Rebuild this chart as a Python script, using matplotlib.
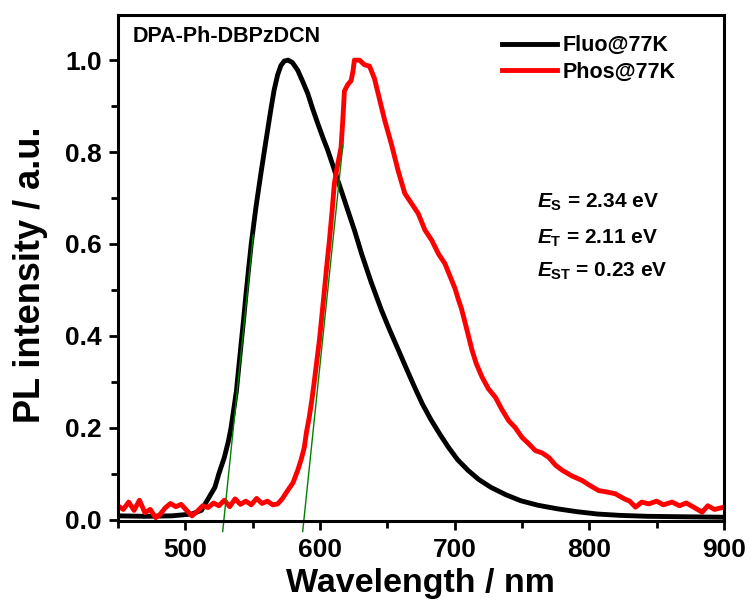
import numpy as np
import matplotlib.pyplot as plt
from matplotlib.ticker import MultipleLocator

plt.rcParams['font.family'] = ['Liberation Sans', 'DejaVu Sans']
plt.rcParams['font.weight'] = 'bold'
plt.rcParams['mathtext.fontset'] = 'custom'
plt.rcParams['mathtext.rm'] = 'Liberation Sans:bold'
plt.rcParams['mathtext.it'] = 'Liberation Sans:italic:bold'
plt.rcParams['mathtext.bf'] = 'Liberation Sans:bold'

# Fluorescence at 77 K (black)
fluo_wl = [450, 470, 490, 505, 512, 516, 522, 525, 529, 532, 534, 536, 538, 539.5, 541.4,
           543.3, 545.1, 547, 549, 552.5, 556.2, 560, 563.7, 566, 568.6, 571, 573.5, 576.3,
           579.5, 583.5, 587, 591, 594.5, 598.4, 602, 605.8, 609.5, 613.2, 617, 620.7, 625.6,
           631, 638, 645.4, 651, 657.8, 664, 670, 676, 682.5, 689, 695, 702, 710, 718, 727,
           738, 749, 762, 777, 791, 806, 823, 843, 870, 900]
fluo_int = [0.008, 0.007, 0.008, 0.012, 0.02, 0.04, 0.07, 0.1, 0.135, 0.17, 0.2, 0.24, 0.28,
            0.325, 0.38, 0.435, 0.49, 0.545, 0.6, 0.68, 0.754, 0.826, 0.895, 0.935, 0.968,
            0.988, 0.998, 1.0, 0.995, 0.978, 0.955, 0.927, 0.895, 0.862, 0.833, 0.804, 0.772,
            0.739, 0.706, 0.673, 0.63, 0.578, 0.517, 0.458, 0.418, 0.372, 0.33, 0.29, 0.252,
            0.217, 0.186, 0.159, 0.131, 0.107, 0.087, 0.07, 0.054, 0.041, 0.031, 0.023, 0.017,
            0.012, 0.009, 0.007, 0.006, 0.005]

# Phosphorescence at 77 K (red)
phos_wl = [450, 454, 458, 462, 466, 470, 474, 478, 481, 485, 489, 493, 497, 501, 505, 509,
           513, 517, 521, 525, 529, 533, 537, 541, 545, 549, 553, 557, 561, 565, 568.6, 572,
           576, 580, 583.5, 586, 588.4, 590, 592.1, 594, 595.8, 597.7, 599.6, 601.5, 603.3,
           605, 607, 609, 610.7, 613, 615.7, 617, 618.2, 620.7, 623.1, 624.5, 625.6, 629.4,
           633, 636.8, 640.5, 643, 645.5, 648, 653, 658, 663, 668, 673, 678, 683, 687.9,
           692.8, 697.8, 700.3, 703, 705, 708, 713, 716, 720.4, 725, 730.3, 735, 740.2, 745,
           750, 755, 760, 765, 770, 775, 780, 787, 794.7, 800, 807, 813, 819.4, 826, 830,
           834.3, 839, 844.2, 850, 855, 861.5, 867, 872, 878, 883.8, 888, 893, 900]
phos_int = [0.03, 0.022, 0.038, 0.02, 0.042, 0.015, 0.022, 0.004, 0.01, 0.025, 0.035, 0.028,
            0.033, 0.02, 0.008, 0.018, 0.03, 0.026, 0.036, 0.03, 0.042, 0.028, 0.045, 0.033,
            0.04, 0.032, 0.046, 0.035, 0.04, 0.032, 0.034, 0.045, 0.063, 0.08, 0.107, 0.13,
            0.157, 0.19, 0.223, 0.26, 0.3, 0.345, 0.39, 0.445, 0.498, 0.55, 0.606, 0.67, 0.731,
            0.77, 0.81, 0.87, 0.933, 0.947, 0.955, 0.975, 1.0, 1.0, 0.99, 0.987, 0.96, 0.93,
            0.9, 0.87, 0.818, 0.76, 0.71, 0.688, 0.666, 0.63, 0.608, 0.579, 0.557, 0.521,
            0.503, 0.477, 0.46, 0.426, 0.368, 0.34, 0.31, 0.285, 0.266, 0.24, 0.215, 0.2,
            0.179, 0.165, 0.15, 0.145, 0.135, 0.118, 0.107, 0.095, 0.085, 0.075, 0.063, 0.06,
            0.056, 0.045, 0.04, 0.027, 0.038, 0.034, 0.04, 0.032, 0.038, 0.03, 0.036, 0.026,
            0.016, 0.03, 0.022, 0.027]

# onset tangents (green)
tan_s_wl = [527.8, 550.5]
tan_s_int = [-0.026, 0.62]
tan_t_wl = [587.2, 617]
tan_t_int = [-0.026, 0.815]

fig = plt.figure(figsize=(7.51, 6.05), dpi=100)
ax = fig.add_axes([0.157, 0.139, 0.807, 0.836])

ax.plot(fluo_wl, fluo_int, color='black', lw=3.5, label='Fluo@77K')
ax.plot(phos_wl, phos_int, color='red', lw=3.5, label='Phos@77K')
ax.plot(tan_s_wl, tan_s_int, color='green', lw=1.0, clip_on=False)
ax.plot(tan_t_wl, tan_t_int, color='green', lw=1.0, clip_on=False)

ax.set_xlim(450, 900)
ax.set_ylim(-0.003, 1.098)
ax.xaxis.set_major_locator(MultipleLocator(100))
ax.xaxis.set_minor_locator(MultipleLocator(50))
ax.yaxis.set_major_locator(MultipleLocator(0.2))
ax.yaxis.set_minor_locator(MultipleLocator(0.1))
ax.tick_params(which='major', direction='out', length=6.5, width=2, labelsize=19)
ax.tick_params(which='minor', direction='out', length=5, width=2)
ax.tick_params(axis='x', pad=6)
ax.tick_params(axis='y', pad=5)
for s in ax.spines.values():
    s.set_linewidth(2.2)

ax.set_xlabel('Wavelength / nm', fontsize=24.5, fontweight='bold', labelpad=4)
ax.set_ylabel('PL intensity / a.u.', fontsize=26, fontweight='bold')
ax.yaxis.set_label_coords(-0.1155, 0.486)

ax.text(0.025, 0.957, 'DPA-Ph-DBPzDCN', transform=ax.transAxes, fontsize=15.5,
        fontweight='bold', va='center')
ax.legend(loc='upper left', bbox_to_anchor=(0.62, 0.977), borderaxespad=0, frameon=False,
          fontsize=15.5, handlelength=2.56, handletextpad=0.23, labelspacing=0.25)

ax.text(0.691, 0.619, r'$E_{\mathrm{S}}$ = 2.34 eV', transform=ax.transAxes, fontsize=15)
ax.text(0.691, 0.549, r'$E_{\mathrm{T}}$ = 2.11 eV', transform=ax.transAxes, fontsize=15)
ax.text(0.691, 0.482, r'$E_{\mathrm{ST}}$ = 0.23 eV', transform=ax.transAxes, fontsize=15)

fig.savefig('out.png', dpi=100)
